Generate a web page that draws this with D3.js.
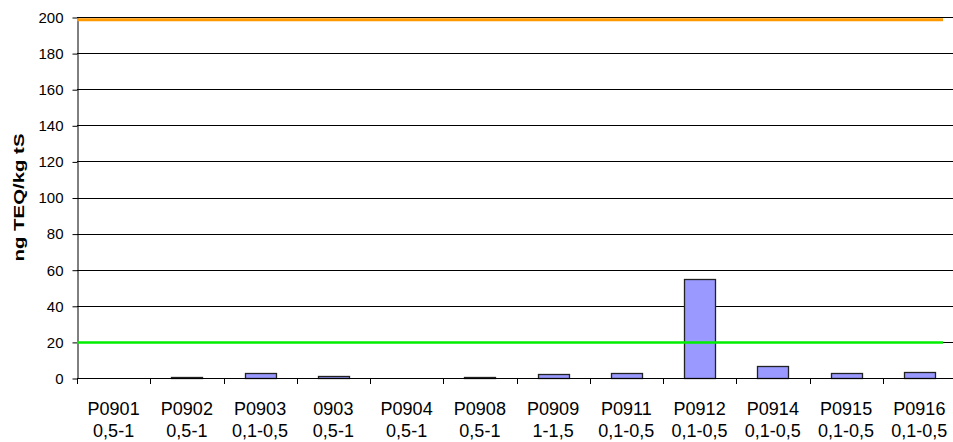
<!DOCTYPE html>
<html>
<head>
<meta charset="utf-8">
<script src="https://cdn.jsdelivr.net/npm/d3@7"></script>
<style>
  body { margin: 0; background: #fff; }
  text { font-family: "Liberation Sans", Arial, sans-serif; fill: #000; }
</style>
</head>
<body>
<svg width="953" height="442"></svg>
<script>
var samples = ["P0901", "P0902", "P0903", "0903", "P0904", "P0908", "P0909", "P0911", "P0912", "P0914", "P0915", "P0916"];
var depths = ["0,5-1", "0,5-1", "0,1-0,5", "0,5-1", "0,5-1", "0,5-1", "1-1,5", "0,1-0,5", "0,1-0,5", "0,1-0,5", "0,1-0,5", "0,1-0,5"];
var values = [0, 0.4, 2.6, 1.3, 0, 0.4, 2, 2.6, 55, 6.6, 2.6, 3.2];
var yTicks = [0, 20, 40, 60, 80, 100, 120, 140, 160, 180, 200];
var limitHigh = 198.5;
var limitLow = 20;

var svg = d3.select("svg"),
    plotLeft = 77,
    plotRight = 956,
    plotTop = 17,
    plotBottom = 378;

var x = d3.scaleBand()
  .domain(samples)
  .range([plotLeft, plotRight])
  .paddingInner(0.58)
  .paddingOuter(0.29);

var y = d3.scaleLinear()
  .domain([0, 200])
  .range([plotBottom, plotTop]);

var lineX = d3.scaleLinear()
  .domain([0, 1])
  .range([plotLeft, 943]);

// gridlines
svg.selectAll("line.grid")
  .data(yTicks.filter(function(d) { return d > 0; }))
  .enter().append("line")
  .attr("class", "grid")
  .attr("x1", plotLeft)
  .attr("x2", 953)
  .attr("y1", function(d) { return Math.round(y(d)) + 0.5; })
  .attr("y2", function(d) { return Math.round(y(d)) + 0.5; })
  .style("stroke", "#000")
  .style("stroke-width", 1);

// y axis
var yAxis = d3.axisLeft(y)
  .tickValues(yTicks)
  .tickSize(5)
  .tickPadding(9)
  .tickSizeOuter(0);

var gy = svg.append("g")
  .attr("transform", "translate(" + (plotLeft + 0.5) + ",0.5)")
  .call(yAxis);
gy.selectAll("text")
  .style("font-size", "15px")
  .style("font-family", "'Liberation Sans', Arial, sans-serif");
gy.selectAll("line, path").style("stroke", "#000");

// bars
var step = x.step();
svg.selectAll("rect.bar")
  .data(values)
  .enter().append("rect")
  .attr("class", "bar")
  .attr("x", function(d, i) { return Math.round(x(samples[i])) + 0.5; })
  .attr("width", Math.round(x.bandwidth()))
  .attr("y", function(d) { return Math.round(y(d)) + 0.5; })
  .attr("height", function(d) { return Math.round(plotBottom - y(d)); })
  .style("fill", function(d) { return d > 0 ? "#9999ff" : "none"; })
  .style("stroke", function(d) { return d > 0 ? "#222" : "none"; })
  .style("stroke-width", 1.3);

// x axis
svg.append("line")
  .attr("x1", plotLeft)
  .attr("x2", 953)
  .attr("y1", plotBottom + 0.5)
  .attr("y2", plotBottom + 0.5)
  .style("stroke", "#000");

svg.selectAll("line.xtick")
  .data(d3.range(samples.length + 1))
  .enter().append("line")
  .attr("class", "xtick")
  .attr("x1", function(i) { return Math.round(plotLeft + i * step) + 0.5; })
  .attr("x2", function(i) { return Math.round(plotLeft + i * step) + 0.5; })
  .attr("y1", plotBottom)
  .attr("y2", plotBottom + 6)
  .style("stroke", "#000");

var labels = svg.selectAll("text.xlab")
  .data(samples)
  .enter().append("text")
  .attr("class", "xlab")
  .attr("text-anchor", "middle")
  .style("font-size", "18px");
labels.append("tspan")
  .attr("x", function(d) { return x(d) + x.bandwidth() / 2; })
  .attr("y", 415)
  .text(function(d) { return d; });
labels.append("tspan")
  .attr("x", function(d) { return x(d) + x.bandwidth() / 2; })
  .attr("y", 437)
  .text(function(d, i) { return depths[i]; });

// limit lines
svg.append("line")
  .attr("x1", lineX(0))
  .attr("x2", lineX(1))
  .attr("y1", y(limitHigh))
  .attr("y2", y(limitHigh))
  .style("stroke", "#ff9900")
  .style("stroke-width", 3);

svg.append("line")
  .attr("x1", lineX(0))
  .attr("x2", lineX(1))
  .attr("y1", y(limitLow) + 0.5)
  .attr("y2", y(limitLow) + 0.5)
  .style("stroke", "#00ee00")
  .style("stroke-width", 2.5);

// y label (glyphs stretched along the text, as in the original)
svg.append("text")
  .attr("transform", "translate(24," + ((plotTop + plotBottom) / 2) + ") rotate(-90) scale(1.36,1)")
  .attr("text-anchor", "middle")
  .style("font-size", "15px")
  .style("font-weight", "bold")
  .text("ng TEQ/kg tS");
</script>
</body>
</html>
